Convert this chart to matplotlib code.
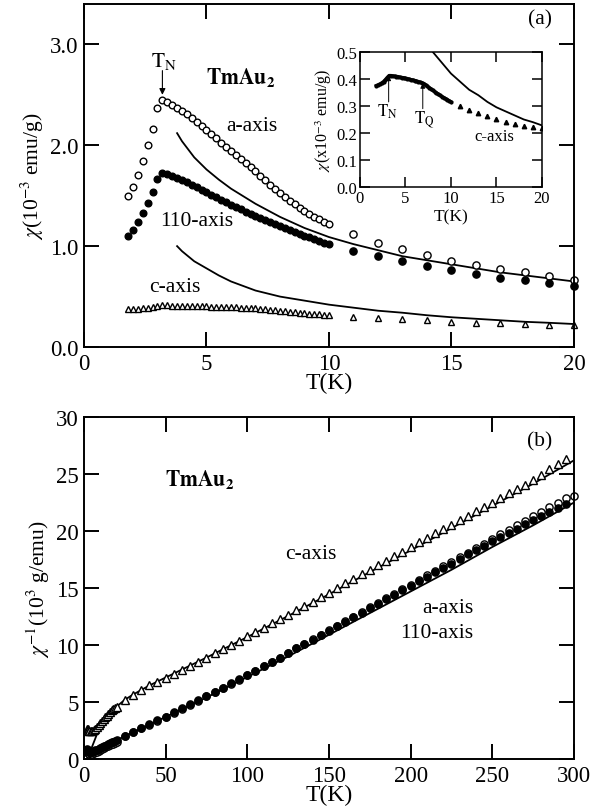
import matplotlib
matplotlib.use('Agg')
import matplotlib.pyplot as plt

plt.rcParams['font.family'] = ['Liberation Serif', 'DejaVu Serif']
plt.rcParams['mathtext.fontset'] = 'stix'

# ---- panel (a): chi vs T, low temperature ----
# a-axis (open circles)
Ta_low = [1.8, 2.0, 2.2, 2.4, 2.6, 2.8, 3.0]
chia_low = [1.50, 1.59, 1.71, 1.84, 2.00, 2.16, 2.37]
Ta_dense = [3.2, 3.4, 3.6, 3.8, 4.0, 4.2, 4.4, 4.6, 4.8, 5.0, 5.2, 5.4, 5.6, 5.8, 6.0,
            6.2, 6.4, 6.6, 6.8, 7.0, 7.2, 7.4, 7.6, 7.8, 8.0, 8.2, 8.4, 8.6, 8.8, 9.0,
            9.2, 9.4, 9.6, 9.8, 10.0]
chia_dense = [2.45, 2.43, 2.40, 2.37, 2.34, 2.31, 2.27, 2.23, 2.19, 2.15, 2.11, 2.07, 2.02,
              1.98, 1.94, 1.90, 1.86, 1.82, 1.78, 1.74, 1.70, 1.66, 1.61, 1.57, 1.53, 1.49,
              1.45, 1.42, 1.38, 1.35, 1.32, 1.29, 1.27, 1.24, 1.22]
T_sparse = [11, 12, 13, 14, 15, 16, 17, 18, 19, 20]
chia_sparse = [1.12, 1.03, 0.97, 0.91, 0.85, 0.81, 0.77, 0.74, 0.70, 0.66]

# 110-axis (filled circles)
chi110_low = [1.10, 1.16, 1.24, 1.33, 1.43, 1.54, 1.67]
chi110_dense = [1.73, 1.72, 1.70, 1.68, 1.66, 1.64, 1.61, 1.59, 1.56, 1.54, 1.51, 1.49, 1.46,
                1.44, 1.41, 1.39, 1.37, 1.34, 1.32, 1.30, 1.28, 1.26, 1.24, 1.22, 1.20, 1.18,
                1.16, 1.14, 1.12, 1.10, 1.09, 1.07, 1.05, 1.03, 1.02]
chi110_sparse = [0.95, 0.90, 0.85, 0.80, 0.76, 0.72, 0.68, 0.66, 0.63, 0.60]

# c-axis (open triangles)
Tc_dense = [1.8, 2.0, 2.2, 2.4, 2.6, 2.8, 3.0, 3.2, 3.4, 3.6, 3.8, 4.0, 4.2, 4.4, 4.6, 4.8,
            5.0, 5.2, 5.4, 5.6, 5.8, 6.0, 6.2, 6.4, 6.6, 6.8, 7.0, 7.2, 7.4, 7.6, 7.8, 8.0,
            8.2, 8.4, 8.6, 8.8, 9.0, 9.2, 9.4, 9.6, 9.8, 10.0]
chic_dense = [0.375, 0.378, 0.381, 0.385, 0.390, 0.397, 0.405, 0.412, 0.412, 0.411, 0.410,
              0.409, 0.408, 0.406, 0.405, 0.404, 0.402, 0.401, 0.399, 0.397, 0.396, 0.394,
              0.392, 0.390, 0.388, 0.386, 0.383, 0.378, 0.373, 0.368, 0.363, 0.358, 0.353,
              0.348, 0.344, 0.339, 0.335, 0.331, 0.327, 0.323, 0.319, 0.315]
chic_sparse = [0.300, 0.286, 0.274, 0.263, 0.252, 0.242, 0.235, 0.227, 0.221, 0.217]

# CEF calculations
Tfit = [3.8, 4.0, 4.5, 5, 5.5, 6, 7, 8, 9, 10, 11, 12, 13, 14, 15, 16, 17, 18, 19, 20]
fit_ab = [2.12, 2.04, 1.88, 1.76, 1.66, 1.57, 1.42, 1.29, 1.18, 1.09, 1.02, 0.96, 0.90,
          0.86, 0.82, 0.78, 0.74, 0.71, 0.68, 0.65]
fit_c = [1.00, 0.95, 0.85, 0.78, 0.71, 0.65, 0.56, 0.50, 0.46, 0.42, 0.39, 0.36, 0.34,
         0.315, 0.295, 0.28, 0.265, 0.25, 0.24, 0.228]

# ---- panel (b): inverse chi vs T ----
Tb_low = [1.8, 2.2, 2.6, 3.0, 3.2, 4, 5, 6, 7, 8, 9, 10, 11, 12, 13, 14, 15, 16, 17, 18, 19, 20]
inv_a_low = [0.67, 0.58, 0.50, 0.42, 0.41, 0.43, 0.47, 0.52, 0.58, 0.65, 0.74, 0.82, 0.90,
             0.97, 1.03, 1.10, 1.18, 1.23, 1.30, 1.35, 1.43, 1.52]
inv_110_low = [0.91, 0.79, 0.69, 0.59, 0.58, 0.60, 0.65, 0.71, 0.77, 0.83, 0.91, 0.98, 1.05,
               1.11, 1.18, 1.25, 1.32, 1.39, 1.47, 1.52, 1.59, 1.67]
inv_c_low = [2.66, 2.62, 2.56, 2.47, 2.43, 2.44, 2.49, 2.54, 2.60, 2.79, 2.98, 3.17, 3.33,
             3.50, 3.65, 3.80, 3.97, 4.13, 4.26, 4.40, 4.52, 4.60]

Tb = [25, 30, 35, 40, 45, 50, 55, 60, 65, 70, 75, 80, 85, 90, 95, 100, 105, 110, 115, 120,
      125, 130, 135, 140, 145, 150, 155, 160, 165, 170, 175, 180, 185, 190, 195, 200, 205,
      210, 215, 220, 225, 230, 235, 240, 245, 250, 255, 260, 265, 270, 275, 280, 285, 290,
      295, 300]
inv_a = [2.00, 2.35, 2.70, 3.00, 3.35, 3.70, 4.05, 4.40, 4.75, 5.10, 5.50, 5.85, 6.20, 6.60,
         6.95, 7.35, 7.75, 8.15, 8.55, 8.90, 9.30, 9.70, 10.10, 10.50, 10.90, 11.30, 11.70,
         12.10, 12.50, 12.90, 13.30, 13.70, 14.10, 14.50, 14.90, 15.30, 15.70, 16.10, 16.50,
         16.90, 17.30, 17.70, 18.10, 18.50, 18.90, 19.30, 19.70, 20.10, 20.50, 20.90, 21.30,
         21.70, 22.10, 22.50, 22.90, 23.10]
inv_110 = [2.05, 2.40, 2.75, 3.05, 3.40, 3.73, 4.10, 4.45, 4.80, 5.15, 5.55, 5.90, 6.25,
           6.65, 7.00, 7.37, 7.75, 8.15, 8.55, 8.90, 9.30, 9.70, 10.10, 10.45, 10.85, 11.25,
           11.65, 12.05, 12.45, 12.85, 13.25, 13.60, 14.00, 14.40, 14.80, 15.20, 15.60, 16.00,
           16.40, 16.75, 17.15, 17.55, 17.95, 18.30, 18.70, 19.10, 19.45, 19.85, 20.20, 20.60,
           20.95, 21.35, 21.70, 22.05, 22.40]
Tb_c = Tb[:-1]
inv_c = [5.20, 5.65, 6.05, 6.45, 6.80, 7.15, 7.50, 7.85, 8.20, 8.55, 8.90, 9.30, 9.65, 10.00,
         10.35, 10.75, 11.10, 11.50, 11.90, 12.25, 12.65, 13.05, 13.40, 13.80, 14.20, 14.60,
         15.00, 15.40, 15.80, 16.20, 16.60, 17.00, 17.40, 17.80, 18.20, 18.60, 19.00, 19.40,
         19.80, 20.15, 20.55, 20.95, 21.35, 21.75, 22.10, 22.50, 22.90, 23.30, 23.65, 24.05,
         24.50, 24.95, 25.40, 25.85, 26.30]

Tbfit_c = [3, 5, 8, 10, 15, 20, 25, 30, 40, 50, 75, 100, 125, 150, 175, 200, 225, 250, 275, 300]
invfit_c = [0.3, 1.1, 2.2, 2.8, 3.9, 4.6, 5.2, 5.65, 6.45, 7.15, 8.9, 10.7, 12.55, 14.45,
            16.4, 18.3, 20.25, 22.2, 24.15, 26.2]
Tbfit_ab = [3, 5, 10, 15, 20, 25, 30, 40, 50, 75, 100, 125, 150, 175, 200, 225, 250, 275, 300]
invfit_ab = [0.3, 0.5, 0.95, 1.35, 1.65, 2.0, 2.35, 3.0, 3.7, 5.4, 7.2, 9.0, 10.9, 12.8,
             14.7, 16.6, 18.6, 20.5, 22.5]

fs = 15.5
fig = plt.figure(figsize=(6.03, 8.12), dpi=100)
ax1 = fig.add_axes([0.1393, 0.5714, 0.8126, 0.4224])
ax2 = fig.add_axes([0.1393, 0.064, 0.8126, 0.4212])
axi = fig.add_axes([0.597, 0.7685, 0.3018, 0.1663])


def style(ax, size, length, width):
    for s in ax.spines.values():
        s.set_linewidth(width)
    ax.tick_params(direction='in', top=True, right=True, length=length, width=width,
                   labelsize=size, pad=4)


oc = dict(ls='none', marker='o', mfc='white', mec='black', mew=1.0, color='black')
fc = dict(ls='none', marker='o', mfc='black', mec='black', color='black')
tr = dict(ls='none', marker='^', mfc='white', mec='black', mew=1.0, color='black')

# panel (a)
ax1.plot(Tfit, fit_ab, color='black', lw=1.3)
ax1.plot(Tfit, fit_c, color='black', lw=1.3)
ax1.plot(Ta_low + Ta_dense, chia_low + chia_dense, ms=4.8, **oc)
ax1.plot(T_sparse, chia_sparse, ms=5.2, clip_on=False, **oc)
ax1.plot(Ta_low + Ta_dense, chi110_low + chi110_dense, ms=4.8, **fc)
ax1.plot(T_sparse, chi110_sparse, ms=5.2, clip_on=False, **fc)
ax1.plot(Tc_dense, chic_dense, ms=4.8, **tr)
ax1.plot(T_sparse, chic_sparse, ms=5, clip_on=False, **tr)
ax1.set_xlim(0, 20)
ax1.set_ylim(0, 3.4)
ax1.set_xticks([0, 5, 10, 15, 20])
ax1.set_yticks([0.0, 1.0, 2.0, 3.0])
ax1.set_yticklabels(['0.0', '1.0', '2.0', '3.0'])
style(ax1, 16.5, 11, 1.4)
ax1.set_xlabel('T(K)', fontsize=17, labelpad=-1)
ax1.set_ylabel(r'$\chi$(10$^{-3}$ emu/g)', fontsize=fs, labelpad=3)
ax1.text(6.4, 2.67, r'$\mathbf{TmAu_2}$', fontsize=fs, ha='center', va='center')
ax1.text(6.85, 2.2, 'a-axis', fontsize=fs, ha='center', va='center')
ax1.text(4.6, 1.25, '110-axis', fontsize=fs, ha='center', va='center')
ax1.text(3.7, 0.6, 'c-axis', fontsize=fs, ha='center', va='center')
ax1.text(18.6, 3.25, '(a)', fontsize=fs, ha='center', va='center')
ax1.text(3.25, 2.74, r'$\mathrm{T_N}$', fontsize=fs, ha='center', va='bottom')
ax1.annotate('', xy=(3.2, 2.5), xytext=(3.2, 2.74),
             arrowprops=dict(arrowstyle='-|>', color='black', lw=0.8,
                             mutation_scale=9, shrinkA=0, shrinkB=0))

# inset
axi.plot(Tfit, fit_c, color='black', lw=1.3)
axi.plot(Tc_dense, chic_dense, ls='-', lw=2.6, marker='o', ms=2, color='black')
axi.plot(T_sparse, chic_sparse, ls='none', marker='^', ms=3.2, color='black')
axi.set_xlim(0, 20)
axi.set_ylim(0, 0.5)
axi.set_xticks([0, 5, 10, 15, 20])
axi.set_yticks([0.0, 0.1, 0.2, 0.3, 0.4, 0.5])
axi.set_yticklabels(['0.0', '0.1', '0.2', '0.3', '0.4', '0.5'])
style(axi, 12, 7, 1.1)
axi.tick_params(pad=2)
axi.set_xlabel('T(K)', fontsize=12.5, labelpad=2)
axi.set_ylabel(r'$\chi$(x10$^{-3}$ emu/g)', fontsize=11.5, labelpad=2)
axi.text(3.0, 0.315, r'$\mathrm{T_N}$', fontsize=12, ha='center', va='top')
axi.annotate('', xy=(3.15, 0.412), xytext=(3.15, 0.315),
             arrowprops=dict(arrowstyle='-|>', color='black', lw=0.7,
                             mutation_scale=7, shrinkA=0, shrinkB=0))
axi.text(7.1, 0.29, r'$\mathrm{T_Q}$', fontsize=12, ha='center', va='top')
axi.annotate('', xy=(6.9, 0.384), xytext=(6.9, 0.29),
             arrowprops=dict(arrowstyle='-|>', color='black', lw=0.7,
                             mutation_scale=7, shrinkA=0, shrinkB=0))
axi.text(14.8, 0.19, 'c-axis', fontsize=12, ha='center', va='center')

# panel (b)
ax2.plot(Tbfit_c, invfit_c, color='black', lw=1.3)
ax2.plot(Tbfit_ab, invfit_ab, color='black', lw=1.3)
ax2.plot(Tb_low + Tb, inv_a_low + inv_a, ms=5.2, clip_on=False, **oc)
ax2.plot(Tb_low + Tb[:-1], inv_110_low + inv_110, ms=5.2, **fc)
ax2.plot(Tb_low + Tb_c, inv_c_low + inv_c, ms=5.2, **tr)
ax2.set_xlim(0, 300)
ax2.set_ylim(0, 30)
ax2.set_xticks([0, 50, 100, 150, 200, 250, 300])
ax2.set_yticks([0, 5, 10, 15, 20, 25, 30])
style(ax2, 16.5, 11, 1.4)
ax2.set_xlabel('T(K)', fontsize=17, labelpad=-1)
ax2.set_ylabel(r'$\chi^{-1}$(10$^{3}$ g/emu)', fontsize=fs, labelpad=3)
ax2.text(71, 24.5, r'$\mathbf{TmAu_2}$', fontsize=fs, ha='center', va='center')
ax2.text(139, 18.0, 'c-axis', fontsize=fs, ha='center', va='center')
ax2.text(223, 13.3, 'a-axis', fontsize=fs, ha='center', va='center')
ax2.text(216, 11.1, '110-axis', fontsize=fs, ha='center', va='center')
ax2.text(279, 27.9, '(b)', fontsize=fs, ha='center', va='center')

fig.savefig('out.png', dpi=100)
